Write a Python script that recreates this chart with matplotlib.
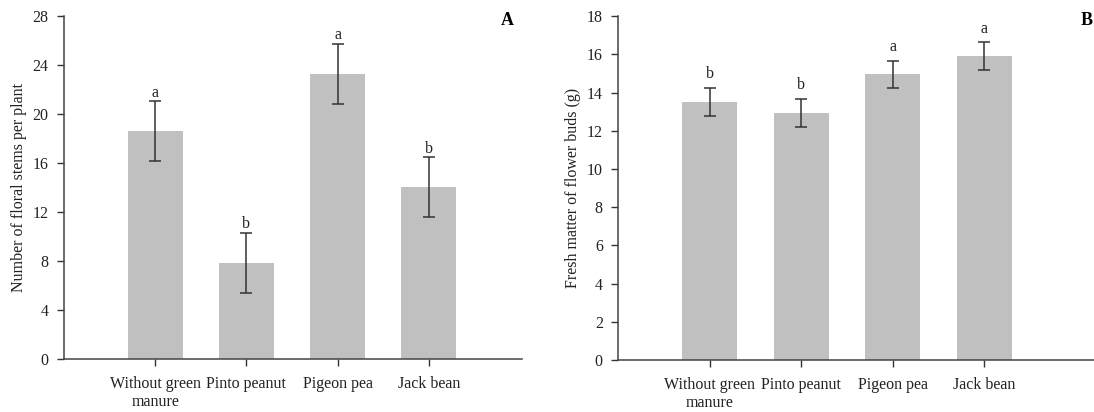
import matplotlib
matplotlib.use("Agg")
import matplotlib.pyplot as plt

plt.rcParams['font.family'] = ['Liberation Serif', 'DejaVu Serif']

# Treatments (shared x axis)
categories = ['Without green\nmanure', 'Pinto peanut', 'Pigeon pea', 'Jack bean']

# Panel A: number of floral stems per plant
stems = [18.6, 7.85, 23.3, 14.0]
stems_err = [2.45, 2.45, 2.45, 2.45]
stems_letters = ['a', 'b', 'a', 'b']

# Panel B: fresh matter of flower buds (g)
buds = [13.5, 12.93, 14.95, 15.9]
buds_err = [0.73, 0.73, 0.72, 0.73]
buds_letters = ['b', 'b', 'a', 'a']

fig = plt.figure(figsize=(10.94, 4.12), dpi=100)
axA = fig.add_axes([0.0585, 0.129, 0.4185, 0.832])
axB = fig.add_axes([0.565, 0.126, 0.435, 0.835])

def panel(ax, vals, errs, letters, ymax, step, ylabel, xmax, pad):
    x = range(len(categories))
    ax.bar(x, vals, width=0.6, color='#c0c0c0', zorder=1)
    ax.errorbar(x, vals, yerr=errs, fmt='none', ecolor='#333333',
                elinewidth=1.1, capsize=4.3, capthick=1.1, zorder=2)
    for xi, v, e, l in zip(x, vals, errs, letters):
        ax.text(xi, v + e + pad, l, ha='center', va='bottom', fontsize=11.5, color='#222222')
    ax.set_xlim(-1, xmax)
    ax.set_ylim(0, ymax)
    ax.set_yticks(range(0, ymax + 1, step))
    ax.set_xticks(list(x))
    ax.set_xticklabels(categories, fontsize=11.5)
    ax.tick_params(axis='y', labelsize=11.5, direction='out', length=5, width=1, colors='#333333', pad=6)
    ax.tick_params(axis='x', direction='out', length=5, width=1, colors='#333333', pad=7)
    for lbl in ax.get_xticklabels() + ax.get_yticklabels():
        lbl.set_color('#222222')
    ax.spines['top'].set_visible(False)
    ax.spines['right'].set_visible(False)
    for s in ('left', 'bottom'):
        ax.spines[s].set_color('#444444')
        ax.spines[s].set_linewidth(1.1)
    ax.set_ylabel(ylabel, fontsize=11.5, color='#222222')

panel(axA, stems, stems_err, stems_letters, 28, 4, 'Number of floral stems per plant', 4.02, 0.05)
panel(axB, buds, buds_err, buds_letters, 18, 2, 'Fresh matter of flower buds (g)', 4.2, 0.3)

fig.text(0.464, 0.951, 'A', fontsize=13, fontweight='bold', ha='center', va='center')
fig.text(0.993, 0.951, 'B', fontsize=13, fontweight='bold', ha='center', va='center')

fig.savefig('out.png', dpi=100)
